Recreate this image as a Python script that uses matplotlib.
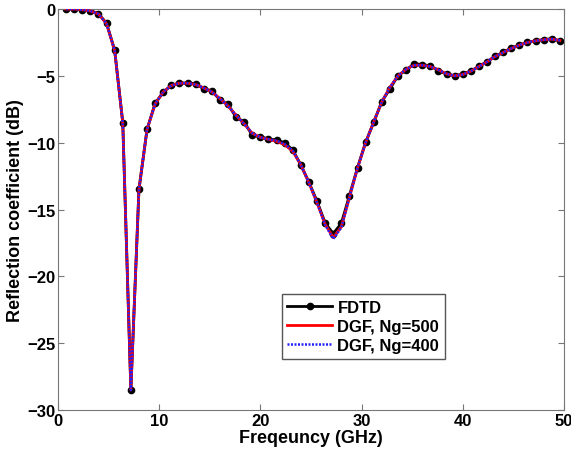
import matplotlib
matplotlib.use("Agg")
import matplotlib.pyplot as plt
import numpy as np

# sampled frequencies (GHz)
freq = [0.8 * k for k in range(1, 63)]

# FDTD reflection coefficient (dB)
fdtd = [0, 0, -0.05, -0.13, -0.35, -1.07, -3.09, -8.5, -28.5, -13.5,
        -9.0, -7.05, -6.23, -5.71, -5.53, -5.55, -5.58, -5.98, -6.11, -6.8,
        -7.13, -8.1, -8.45, -9.45, -9.55, -9.72, -9.8, -10.0, -10.55, -11.67,
        -12.96, -14.38, -16.0, -16.8, -16.03, -13.96, -11.87, -9.97, -8.48, -6.93,
        -5.98, -4.99, -4.58, -4.08, -4.16, -4.25, -4.62, -4.86, -4.99, -4.86,
        -4.64, -4.29, -3.94, -3.54, -3.24, -2.92, -2.69, -2.49, -2.37, -2.29,
        -2.22, -2.39]

# DGF, Ng=500
dgf500 = [0, 0, -0.05, -0.14, -0.37, -1.1, -3.1, -8.5, -28.5, -13.5,
          -9.0, -7.1, -6.2, -5.72, -5.55, -5.55, -5.65, -5.9, -6.2, -6.7,
          -7.25, -7.95, -8.6, -9.3, -9.6, -9.75, -9.9, -10.15, -10.65, -11.65,
          -13.0, -14.5, -16.1, -17.1, -16.3, -14.1, -11.9, -10.0, -8.45, -6.95,
          -5.85, -5.0, -4.5, -4.2, -4.2, -4.3, -4.55, -4.85, -5.0, -4.9,
          -4.65, -4.3, -3.95, -3.55, -3.25, -2.95, -2.7, -2.5, -2.38, -2.3,
          -2.25, -2.35]

# DGF, Ng=400
dgf400 = [0, 0, -0.05, -0.14, -0.37, -1.1, -3.1, -8.5, -28.5, -13.5,
          -9.0, -7.1, -6.2, -5.72, -5.55, -5.55, -5.65, -5.9, -6.2, -6.7,
          -7.25, -7.95, -8.6, -9.3, -9.6, -9.75, -9.85, -10.1, -10.6, -11.65,
          -13.0, -14.5, -16.15, -17.2, -16.35, -14.1, -11.9, -10.0, -8.45, -6.95,
          -5.85, -5.0, -4.5, -4.2, -4.2, -4.3, -4.55, -4.85, -5.0, -4.9,
          -4.65, -4.3, -3.95, -3.55, -3.25, -2.95, -2.7, -2.5, -2.38, -2.3,
          -2.25, -2.35]

plt.rcParams['font.family'] = ['Liberation Sans', 'DejaVu Sans']
plt.rcParams['font.weight'] = 'bold'

fig = plt.figure(figsize=(5.71, 4.56), dpi=100)
ax = fig.add_axes([0.1016, 0.0987, 0.886, 0.8793])

ax.plot(freq, fdtd, color='black', lw=2, marker='o', markersize=4.5,
        label='FDTD', zorder=2)
ax.plot(freq, dgf500, color='red', lw=2, label='DGF, Ng=500', zorder=3)
ax.plot(freq, dgf400, color='#2020ff', lw=1.8, dashes=(0.8, 0.6),
        label='DGF, Ng=400', zorder=4)

ax.set_xlim(0, 50)
ax.set_ylim(-30, 0)
ax.set_xticks(np.arange(0, 51, 10))
ax.set_yticks(np.arange(-30, 1, 5))
ax.tick_params(direction='in', top=True, right=True, labelsize=12,
               length=4, color='#777777', pad=2)
for sp in ax.spines.values():
    sp.set_color('#777777')

ax.set_xlabel('Freqeuncy (GHz)', fontsize=13, fontweight='bold', labelpad=1)
ax.set_ylabel('Reflection coefficient (dB)', fontsize=13, fontweight='bold',
              labelpad=2)

leg = ax.legend(loc='lower left', bbox_to_anchor=(0.442, 0.127),
                borderaxespad=0, fontsize=12, fancybox=False,
                edgecolor='#555555', framealpha=1, handlelength=2.7,
                handletextpad=0.3, borderpad=0.35, labelspacing=0.25)
leg.get_frame().set_linewidth(1)

fig.savefig('out.png', dpi=100)
